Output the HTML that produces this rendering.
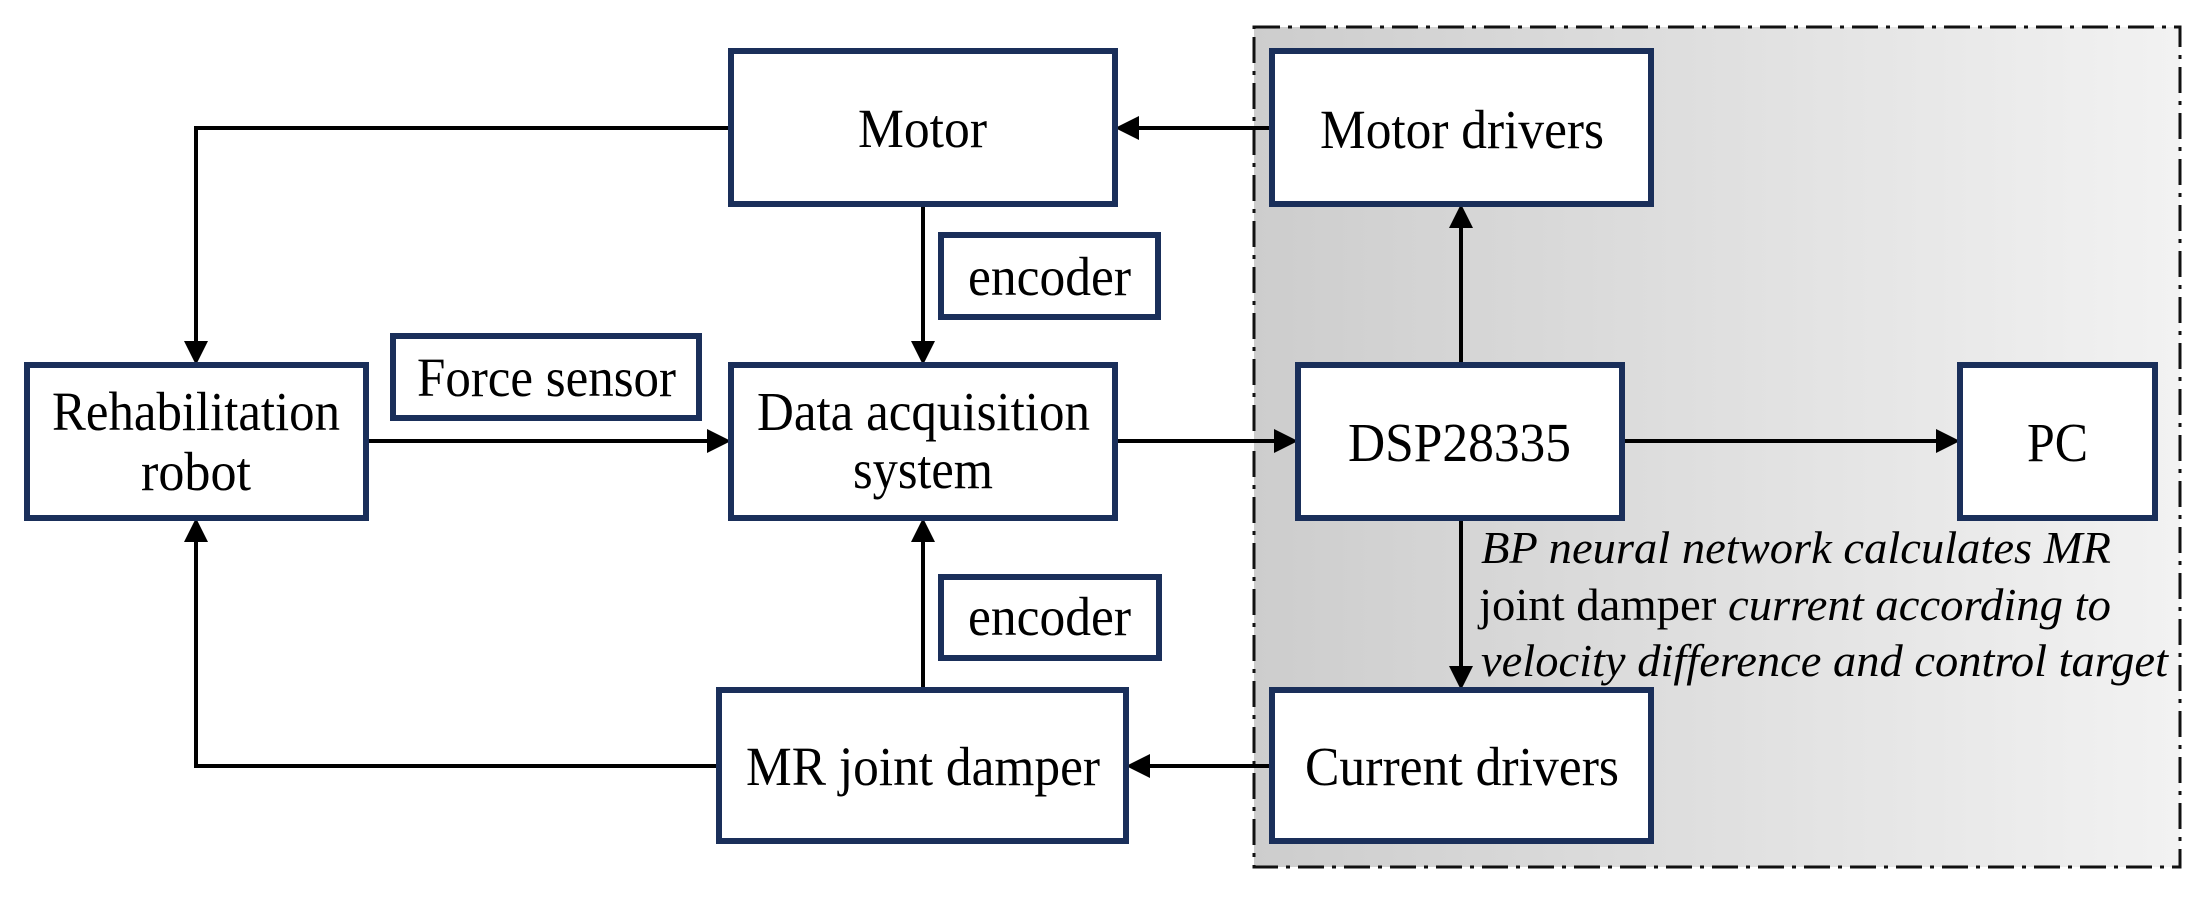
<!DOCTYPE html>
<html><head><meta charset="utf-8"><style>html,body{margin:0;padding:0;background:#fff}</style></head>
<body>
<svg width="2202" height="894" viewBox="0 0 2202 894" xmlns="http://www.w3.org/2000/svg" font-family="'Liberation Serif', serif" font-size="55">
<defs>
<linearGradient id="g" x1="0" y1="0" x2="1" y2="0">
<stop offset="0" stop-color="#cdcdcd"/><stop offset="1" stop-color="#f2f2f2"/>
</linearGradient>
</defs>
<rect x="1254" y="27" width="926" height="840" fill="url(#g)" stroke="#111" stroke-width="3" stroke-dasharray="26,8,4,8"/>
<g stroke="#000" stroke-width="4" fill="none">
<polyline points="731,128 196,128 196,345"/>
<polyline points="719,766 196,766 196,538"/>
<line x1="366" y1="441" x2="711" y2="441"/>
<line x1="923" y1="204" x2="923" y2="345"/>
<line x1="923" y1="690" x2="923" y2="538"/>
<line x1="1272" y1="128" x2="1135" y2="128"/>
<line x1="1115" y1="441" x2="1278" y2="441"/>
<line x1="1461" y1="365" x2="1461" y2="224"/>
<line x1="1622" y1="441" x2="1940" y2="441"/>
<line x1="1461" y1="518" x2="1461" y2="670"/>
<line x1="1272" y1="766" x2="1146" y2="766"/>
</g>
<g fill="#000">
<polygon points="196,365 184,341 208,341"/>
<polygon points="196,518 184,542 208,542"/>
<polygon points="731,441 707,429 707,453"/>
<polygon points="923,365 911,341 935,341"/>
<polygon points="923,518 911,542 935,542"/>
<polygon points="1115,128 1139,116 1139,140"/>
<polygon points="1298,441 1274,429 1274,453"/>
<polygon points="1461,204 1449,228 1473,228"/>
<polygon points="1960,441 1936,429 1936,453"/>
<polygon points="1461,690 1449,666 1473,666"/>
<polygon points="1126,766 1150,754 1150,778"/>
</g>
<g fill="#fff" stroke="#1a2f5a" stroke-width="6">
<rect x="731" y="51" width="384" height="153"/>
<rect x="941" y="235" width="217" height="82"/>
<rect x="27" y="365" width="339" height="153"/>
<rect x="393" y="336" width="306" height="82"/>
<rect x="731" y="365" width="384" height="153"/>
<rect x="941" y="577" width="218" height="81"/>
<rect x="719" y="690" width="407" height="151"/>
<rect x="1272" y="51" width="379" height="153"/>
<rect x="1298" y="365" width="324" height="153"/>
<rect x="1960" y="365" width="195" height="153"/>
<rect x="1272" y="690" width="379" height="151"/>
</g>
<g fill="#000">
<text x="858" y="147" textLength="129" lengthAdjust="spacingAndGlyphs">Motor</text>
<text x="52" y="430" textLength="288" lengthAdjust="spacingAndGlyphs">Rehabilitation</text>
<text x="141" y="490" textLength="110" lengthAdjust="spacingAndGlyphs">robot</text>
<text x="417" y="396" textLength="259" lengthAdjust="spacingAndGlyphs">Force sensor</text>
<text x="757" y="430" textLength="333" lengthAdjust="spacingAndGlyphs">Data acquisition</text>
<text x="853" y="488" textLength="140" lengthAdjust="spacingAndGlyphs">system</text>
<text x="968" y="295" textLength="163" lengthAdjust="spacingAndGlyphs">encoder</text>
<text x="968" y="635" textLength="163" lengthAdjust="spacingAndGlyphs">encoder</text>
<text x="746" y="785" textLength="354" lengthAdjust="spacingAndGlyphs">MR joint damper</text>
<text x="1320" y="148" textLength="284" lengthAdjust="spacingAndGlyphs">Motor drivers</text>
<text x="1348" y="461" textLength="223" lengthAdjust="spacingAndGlyphs">DSP28335</text>
<text x="2027" y="461" textLength="61" lengthAdjust="spacingAndGlyphs">PC</text>
<text x="1305" y="785" textLength="314" lengthAdjust="spacingAndGlyphs">Current drivers</text>
<g font-size="46">
<text x="1481" y="563" textLength="630" lengthAdjust="spacingAndGlyphs" font-style="italic">BP neural network calculates MR</text>
<text x="1479" y="620" textLength="632" lengthAdjust="spacingAndGlyphs">joint damper <tspan font-style="italic">current according to</tspan></text>
<text x="1481" y="676" textLength="687" lengthAdjust="spacingAndGlyphs" font-style="italic">velocity difference and control target</text>
</g>
</g>
</svg>
</body></html>
